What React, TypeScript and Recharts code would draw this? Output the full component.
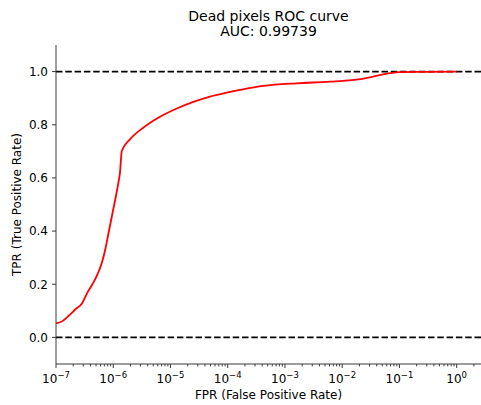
import React from 'react';
import { LineChart, Line, XAxis, YAxis, ReferenceLine, Label } from 'recharts';

// Curve
const fpr = [
  1.0e-7, 1.26e-7, 1.76e-7, 2.14e-7, 2.82e-7, 3.63e-7, 4.79e-7, 6.31e-7, 7.24e-7, 8.51e-7,
  1.0e-6, 1.23e-6, 1.31e-6, 1.41e-6, 1.96e-6, 3.35e-6, 6.56e-6, 1.29e-5, 2.51e-5, 4.9e-5,
  9.59e-5, 1.64e-4, 4.19e-4, 1.6e-3, 6.12e-3, 1.91e-2, 3.47e-2, 6.84e-2, 1.02e-1, 3.16e-1, 1.0,
];
const tpr = [
  0.053, 0.06, 0.086, 0.104, 0.127, 0.173, 0.217, 0.28, 0.33, 0.406,
  0.481, 0.582, 0.619, 0.701, 0.745, 0.789, 0.83, 0.861, 0.886, 0.906,
  0.921, 0.931, 0.946, 0.956, 0.962, 0.971, 0.981, 0.994, 0.998, 0.999, 1.0,
];

const majorTicks = [1e-7, 1e-6, 1e-5, 1e-4, 1e-3, 1e-2, 1e-1, 1];
const majorExponents = ['−7', '−6', '−5', '−4', '−3', '−2', '−1', '0'];
const minorTicks = [
  2e-7, 3e-7, 4e-7, 5e-7, 6e-7, 7e-7, 8e-7, 9e-7,
  2e-6, 3e-6, 4e-6, 5e-6, 6e-6, 7e-6, 8e-6, 9e-6,
  2e-5, 3e-5, 4e-5, 5e-5, 6e-5, 7e-5, 8e-5, 9e-5,
  2e-4, 3e-4, 4e-4, 5e-4, 6e-4, 7e-4, 8e-4, 9e-4,
  2e-3, 3e-3, 4e-3, 5e-3, 6e-3, 7e-3, 8e-3, 9e-3,
  2e-2, 3e-2, 4e-2, 5e-2, 6e-2, 7e-2, 8e-2, 9e-2,
  2e-1, 3e-1, 4e-1, 5e-1, 6e-1, 7e-1, 8e-1, 9e-1,
  2,
];
const yTicks = [0, 0.2, 0.4, 0.6, 0.8, 1.0];
const xDomain = [1e-7, 2.66];
const yDomain = [-0.1, 1.1];

const titleLines = ['Dead pixels ROC curve', 'AUC: 0.99739'];
const xLabel = 'FPR (False Positive Rate)';
const yLabel = 'TPR (True Positive Rate)';

const data = fpr.map((f, i) => ({ fpr: f, tpr: tpr[i] }));
const allXTicks = [...majorTicks, ...minorTicks].sort((a, b) => a - b);

const FONT = '"DejaVu Sans", sans-serif';
const SPINE = '#3a3a3a';

const XTick = (props: any) => {
  const { x, y, payload } = props;
  const v = payload.value;
  const idx = majorTicks.findIndex((m) => Math.abs(m - v) / m < 1e-9);
  const isMajor = idx >= 0;
  return (
    <g>
      <line x1={x} x2={x} y1={y} y2={y + (isMajor ? 4 : 2.4)} stroke={SPINE} strokeWidth={1} />
      {isMajor && (
        <text x={x} y={y + 18.5} textAnchor="middle" fontFamily={FONT} fontSize={12} fill="#000">
          <tspan>10</tspan>
          <tspan dy={-4.6} fontSize={8.5}>{majorExponents[idx]}</tspan>
        </text>
      )}
    </g>
  );
};

const YLabelContent = (props: any) => {
  const vb = props.viewBox || { x: 0, y: 45, width: 56, height: 319 };
  const cx = 21;
  const cy = vb.y + vb.height / 2;
  return (
    <text x={cx} y={cy} transform={`rotate(-90 ${cx} ${cy})`} textAnchor="middle" fontFamily={FONT} fontSize={12} fill="#000">
      {yLabel}
    </text>
  );
};

export default function App() {
  return (
    <div style={{ position: 'relative', width: 481, height: 405, overflow: 'hidden', background: '#fff' }}>
      <style>{'body{margin:0;overflow:hidden;}'}</style>
      <div
        style={{
          position: 'absolute',
          left: 56,
          width: 425,
          top: 9,
          textAlign: 'center',
          fontFamily: FONT,
          fontSize: 14,
          lineHeight: '14.6px',
          color: '#000',
        }}
      >
        {titleLines.map((t) => (
          <div key={t}>{t}</div>
        ))}
      </div>
      <LineChart width={481} height={405} data={data} margin={{ top: 45, right: 0, left: 0, bottom: 0 }}>
        <XAxis
          xAxisId="top"
          orientation="top"
          type="number"
          dataKey="fpr"
          scale="log"
          domain={xDomain}
          allowDataOverflow
          height={0}
          tick={false}
          tickLine={false}
          axisLine={{ stroke: SPINE, strokeWidth: 1 }}
        />
        <XAxis
          type="number"
          dataKey="fpr"
          scale="log"
          domain={xDomain}
          allowDataOverflow
          ticks={allXTicks}
          interval={0}
          height={41}
          tickSize={0}
          tickMargin={0}
          tickLine={false}
          tick={<XTick />}
          axisLine={{ stroke: SPINE, strokeWidth: 1 }}
        >
          <Label value={xLabel} position="insideBottom" offset={6} fontFamily={FONT} fontSize={12} fill="#000" />
        </XAxis>
        <YAxis
          type="number"
          domain={yDomain}
          allowDataOverflow
          ticks={yTicks}
          interval={0}
          width={56}
          tickSize={4}
          tickMargin={4}
          tickFormatter={(v: number) => v.toFixed(1)}
          tick={{ fontFamily: FONT, fontSize: 12, fill: '#000' }}
          tickLine={{ stroke: SPINE, strokeWidth: 1 }}
          axisLine={{ stroke: SPINE, strokeWidth: 1 }}
          label={<YLabelContent />}
        />
        <ReferenceLine y={1} stroke="#000" strokeWidth={1.8} strokeDasharray="6.5 2.8" />
        <ReferenceLine y={0} stroke="#000" strokeWidth={1.8} strokeDasharray="6.5 2.8" />
        <Line
          type="monotone"
          dataKey="tpr"
          stroke="#ff0000"
          strokeWidth={1.8}
          dot={false}
          isAnimationActive={false}
        />
      </LineChart>
    </div>
  );
}
